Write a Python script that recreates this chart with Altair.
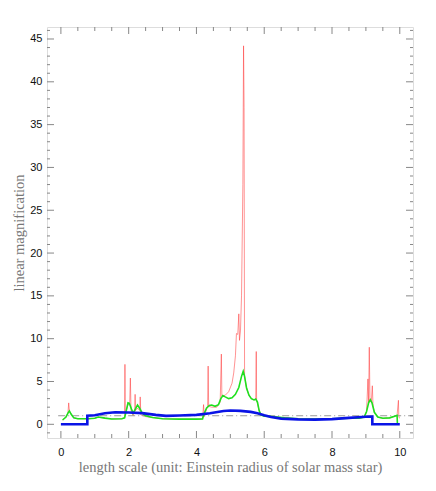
import altair as alt
import pandas as pd

# ---- data ----
blue_x = [0.0, 0.78, 0.78, 1.0, 1.3, 1.6, 2.0, 2.4, 2.8, 3.1, 3.5, 4.0, 4.4, 4.8, 5.0, 5.3, 5.6, 5.8, 6.0, 6.2, 6.5, 7.0, 7.5, 8.0, 8.5, 9.0, 9.19, 9.19, 10.0]
blue_y = [0.0, 0.0, 1.0, 1.05, 1.3, 1.4, 1.38, 1.3, 1.1, 0.98, 1.02, 1.1, 1.3, 1.55, 1.62, 1.57, 1.45, 1.3, 1.05, 0.85, 0.66, 0.58, 0.55, 0.6, 0.75, 0.88, 0.9, 0.0, 0.0]

green_x = [0.05, 0.15, 0.22, 0.25, 0.3, 0.38, 0.5, 0.8, 1.0, 1.1, 1.3, 1.5, 1.8, 1.88, 1.93, 1.98, 2.02, 2.08, 2.13, 2.2, 2.26, 2.32, 2.4, 2.5, 2.7, 3.0, 3.5, 4.0, 4.18,
           4.22, 4.3, 4.38, 4.45, 4.55, 4.65, 4.72, 4.78, 4.85, 4.95, 5.05, 5.15, 5.25, 5.33, 5.38, 5.42, 5.48, 5.55, 5.62, 5.7, 5.75, 5.8, 5.85, 5.9, 6.0, 6.3,
           6.6, 7.0, 7.5, 8.0, 8.5, 8.8, 8.95, 9.02, 9.08, 9.13, 9.18, 9.25, 9.35, 9.5, 9.7, 9.85, 9.92, 9.93]
green_y = [0.5, 0.85, 1.4, 1.55, 1.2, 0.75, 0.65, 0.65, 0.7, 0.85, 0.72, 0.62, 0.65, 0.75, 1.6, 2.5, 2.45, 1.8, 1.3, 1.8, 2.25, 1.9, 1.3, 1.0, 0.8, 0.65, 0.6, 0.6, 0.62,
           1.2, 1.9, 2.2, 2.25, 2.1, 2.3, 3.0, 3.35, 3.2, 3.0, 3.1, 3.5, 4.3, 5.6, 6.2, 5.6, 4.2, 3.4, 3.0, 2.85, 2.95, 2.6, 1.6, 1.1, 0.95, 0.88,
           0.75, 0.65, 0.62, 0.65, 0.72, 0.72, 0.85, 1.5, 2.5, 2.87, 2.5, 1.4, 0.85, 0.7, 0.75, 0.95, 1.05, 0.1]

red_x = [0.05, 0.15, 0.21, 0.23, 0.25, 0.3, 0.38, 0.5, 0.8, 1.0, 1.1, 1.3, 1.5, 1.8, 1.88, 1.89, 1.9, 1.92, 1.98, 2.03, 2.05, 2.07, 2.13, 2.18, 2.19, 2.2, 2.26,
         2.33, 2.34, 2.36, 2.5, 2.7, 3.0, 3.5, 4.0, 4.18, 4.21, 4.23, 4.3, 4.33, 4.345, 4.36, 4.45, 4.6, 4.7, 4.735, 4.75, 4.85, 4.95, 5.05, 5.1, 5.15, 5.18,
         5.22, 5.25, 5.27, 5.3, 5.33, 5.37, 5.39, 5.405, 5.42, 5.48, 5.55, 5.62, 5.7, 5.75, 5.765, 5.775, 5.79, 5.85, 5.9, 6.0, 6.3,
         6.6, 7.0, 7.5, 8.0, 8.5, 8.8, 8.95, 9.02, 9.06, 9.08, 9.1, 9.12, 9.16, 9.19, 9.21, 9.25, 9.35, 9.5, 9.7, 9.85, 9.92, 9.96, 9.97, 9.99]
red_y = [0.5, 0.85, 1.4, 2.5, 1.55, 1.2, 0.75, 0.65, 0.65, 0.7, 0.85, 0.72, 0.62, 0.65, 0.75, 7.0, 1.2, 1.5, 2.3, 2.3, 5.4, 1.6, 1.0, 1.5, 3.5, 1.6, 1.9,
         1.6, 3.2, 1.1, 0.9, 0.8, 0.65, 0.6, 0.6, 0.62, 2.3, 0.9, 1.8, 1.95, 6.8, 2.1, 2.0, 2.0, 2.6, 8.2, 3.3, 3.4, 3.8, 4.8, 6.0, 8.0, 10.6,
         10.5, 12.9, 9.8, 11.0, 15.0, 28.0, 44.2, 37.0, 5.6, 4.2, 3.4, 3.0, 2.85, 2.95, 8.5, 2.8, 2.6, 1.6, 1.1, 0.95, 0.88,
         0.75, 0.65, 0.62, 0.65, 0.72, 0.72, 0.85, 1.5, 5.3, 2.5, 9.0, 2.9, 2.6, 4.5, 2.2, 1.4, 0.85, 0.7, 0.75, 0.95, 1.05, 2.8, 1.0, 0.7]

ref_x = [-0.08, 10.39]
ref_y = [1.0, 1.0]

x_major = [0, 2, 4, 6, 8, 10]
x_minor = [0.5, 1, 1.5, 2.5, 3, 3.5, 4.5, 5, 5.5, 6.5, 7, 7.5, 8.5, 9, 9.5]
y_major = [0, 5, 10, 15, 20, 25, 30, 35, 40, 45]
y_minor = [v for v in range(-1, 47) if v % 5 != 0]

X_DOM = [-0.41, 10.39]
Y_DOM = [-1.6, 46.4]
W, H = 366, 411

xs = alt.Scale(domain=X_DOM, nice=False, zero=False)
ys = alt.Scale(domain=Y_DOM, nice=False, zero=False)

xaxis = alt.Axis(values=x_major, ticks=False, domain=False, grid=False, labelFont="Liberation Sans",
                 labelFontSize=11, labelColor="#111", labelPadding=8,
                 title="length scale (unit: Einstein radius of solar mass star)",
                 titleFont="Liberation Serif", titleFontSize=14.5, titleFontWeight="normal",
                 titleColor="#777", titlePadding=3)
yaxis = alt.Axis(values=y_major, ticks=False, domain=False, grid=False, labelFont="Liberation Sans",
                 labelFontSize=11, labelColor="#111", labelPadding=5,
                 title="linear magnification", titleFont="Liberation Serif", titleFontSize=14.5,
                 titleFontWeight="normal", titleColor="#777", titlePadding=3)

def line(xv, yv, color, width, opacity=1.0, dash=None):
    df = pd.DataFrame({"x": xv, "y": yv, "i": list(range(len(xv)))})
    kw = dict(color=color, strokeWidth=width, opacity=opacity, clip=True)
    if dash:
        kw["strokeDash"] = dash
    return alt.Chart(df).mark_line(**kw).encode(
        x=alt.X("x:Q", scale=xs, axis=xaxis),
        y=alt.Y("y:Q", scale=ys, axis=yaxis),
        order="i:Q",
    )

red = line(red_x, red_y, "#ff3a3a", 1, 0.55)
ref = line(ref_x, ref_y, "#999999", 1, 1.0, dash=[7, 3, 1, 3])
green = line(green_x, green_y, "#1ee01e", 1.6)
blue = line(blue_x, blue_y, "#0a14e6", 2.6)

def yticks(vals, length):
    df = pd.DataFrame({"y": vals})
    base = alt.Chart(df).mark_rule(color="#888", strokeWidth=1)
    left = base.encode(y=alt.Y("y:Q", scale=ys, axis=yaxis), x=alt.value(0), x2=alt.value(length))
    right = base.encode(y=alt.Y("y:Q", scale=ys, axis=yaxis), x=alt.value(W), x2=alt.value(W - length))
    return [left, right]

def xticks(vals, length):
    df = pd.DataFrame({"x": vals})
    base = alt.Chart(df).mark_rule(color="#888", strokeWidth=1)
    bottom = base.encode(x=alt.X("x:Q", scale=xs, axis=xaxis), y=alt.value(H), y2=alt.value(H - length))
    top = base.encode(x=alt.X("x:Q", scale=xs, axis=xaxis), y=alt.value(0), y2=alt.value(length))
    return [bottom, top]

ticks = yticks(y_major, 7) + yticks(y_minor, 3) + xticks(x_major, 7) + xticks(x_minor, 4)

chart = alt.layer(red, ref, green, blue, *ticks).properties(
    width=W, height=H,
    padding={"left": 39, "top": 19, "right": 15, "bottom": 45},
    autosize="none",
).configure_view(stroke="#888", strokeWidth=1).configure(background="white")

chart.save("out.html", embed_options={"renderer": "svg", "actions": False})
